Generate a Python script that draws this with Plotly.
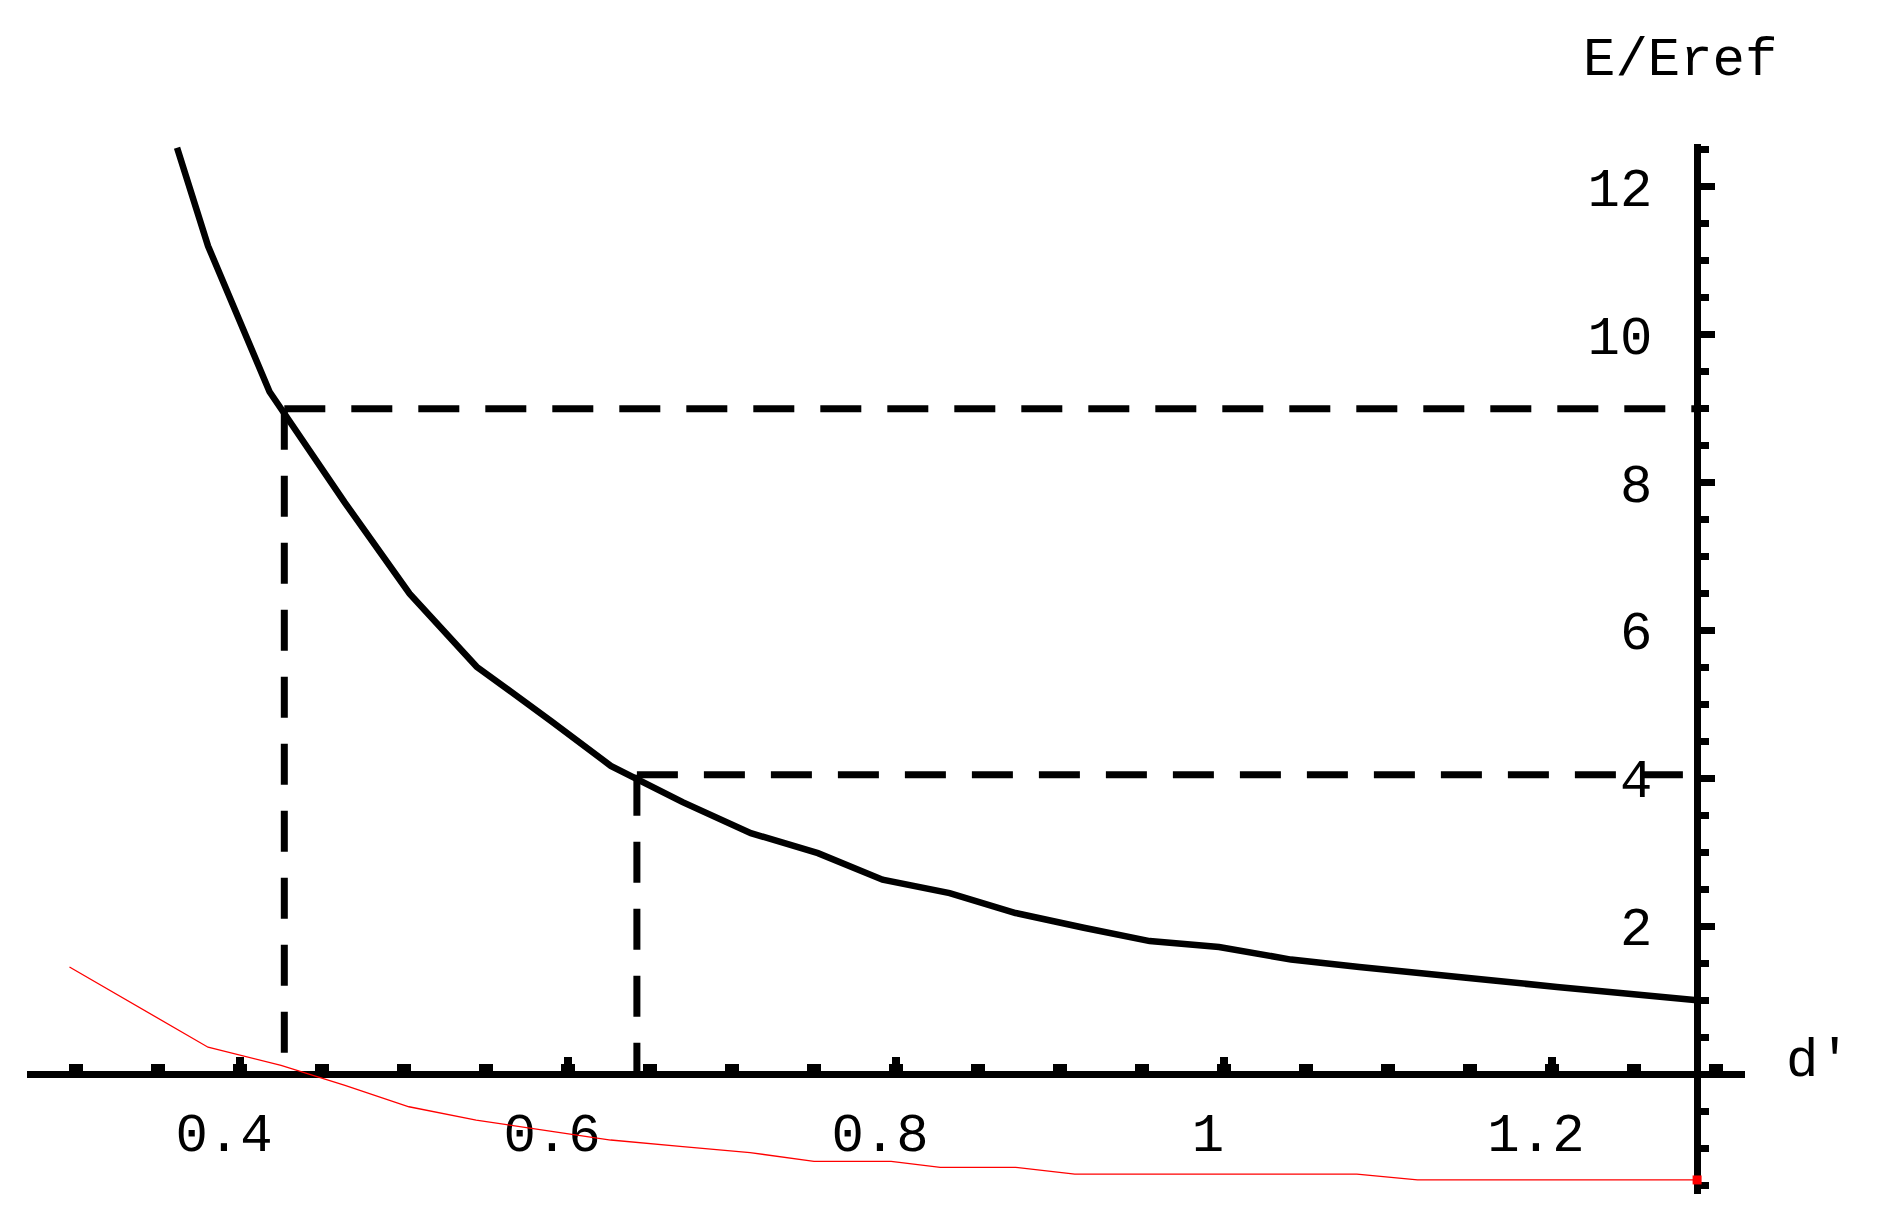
"""Energy ratio E/Eref against d' with two dashed read-off guides."""

import plotly.graph_objects as go

# black curve E/Eref(d')
curve_d = [0.3616, 0.3805, 0.418, 0.4639, 0.5034, 0.5443, 0.5895, 0.6261, 0.6699, 0.7115,
           0.7524, 0.7918, 0.8327, 0.8729, 0.9145, 0.9547, 0.997, 1.0409, 1.0825, 1.1226,
           1.1628, 1.2030, 1.2885]
curve_e = [12.53, 11.2, 9.23, 7.73, 6.50, 5.51, 4.78, 4.17, 3.68, 3.26,
           2.99, 2.63, 2.45, 2.18, 1.98, 1.80, 1.72, 1.55, 1.45, 1.37,
           1.27, 1.18, 1.00]

# thin red curve
red_d = [0.296, 0.3805, 0.425, 0.464, 0.503, 0.544, 0.589, 0.626, 0.670, 0.711,
         0.750, 0.797, 0.827, 0.873, 0.909, 1.081, 1.118, 1.2885]
red_e = [1.45, 0.365, 0.12, -0.15, -0.44, -0.62, -0.77, -0.89, -0.98, -1.06,
         -1.18, -1.18, -1.26, -1.26, -1.35, -1.35, -1.43, -1.43]

# dashed read-off guides (d', E/Eref)
guide_d = [0.427, 0.642]
guide_e = [9.0, 4.05]

x_ticks = [0.4, 0.6, 0.8, 1.0, 1.2]
x_labels = ["0.4", "0.6", "0.8", "1", "1.2"]
y_ticks = [2, 4, 6, 8, 10, 12]

x_range = [0.2701, 1.3177]
y_range = [-1.62, 12.58]
axis_cross_d = 1.2885   # where the E/Eref axis stands
axis_cross_e = 0.0      # where the d' axis stands

FONT = "Liberation Mono, Courier New, monospace"

fig = go.Figure()

for d, e in zip(guide_d, guide_e):
    fig.add_trace(go.Scatter(x=[d, axis_cross_d], y=[e, e], mode="lines",
                             line=dict(color="black", width=7, dash="41px,26px")))
    fig.add_trace(go.Scatter(x=[d, d], y=[e, axis_cross_e], mode="lines",
                             line=dict(color="black", width=7, dash="41px,26px")))

fig.add_trace(go.Scatter(x=curve_d, y=curve_e, mode="lines",
                         line=dict(color="black", width=6.5)))
fig.add_trace(go.Scatter(x=red_d, y=red_e, mode="lines",
                         line=dict(color="red", width=1.3)))
fig.add_trace(go.Scatter(x=red_d[-1:], y=red_e[-1:], mode="markers",
                         marker=dict(color="red", symbol="square", size=9)))

xpos = (axis_cross_e - y_range[0]) / (y_range[1] - y_range[0])
ypos = (axis_cross_d - x_range[0]) / (x_range[1] - x_range[0])

fig.update_layout(
    width=1878, height=1227, autosize=False,
    margin=dict(l=27, r=133, t=144, b=33, pad=0),
    paper_bgcolor="white", plot_bgcolor="white",
    showlegend=False,
    font=dict(family=FONT, size=54, color="black"),
    xaxis=dict(
        range=x_range, anchor="free", position=xpos, side="bottom",
        showline=True, linecolor="black", linewidth=7,
        showgrid=False, zeroline=False, layer="below traces",
        tickmode="array", tickvals=x_ticks, ticktext=x_labels,
        ticks="inside", ticklen=14, tickwidth=8, tickcolor="black",
        ticklabelstandoff=8, ticklabelshift=-16,
        minor=dict(dtick=0.05, tick0=0, ticks="inside", ticklen=7, tickwidth=14,
                   tickcolor="black", showgrid=False),
    ),
    yaxis=dict(
        range=y_range, anchor="free", position=ypos, side="left",
        showline=True, linecolor="black", linewidth=7,
        showgrid=False, zeroline=False, layer="below traces",
        tickmode="array", tickvals=y_ticks,
        ticks="inside", ticklen=14, tickwidth=7, tickcolor="black",
        ticklabelstandoff=31,
        minor=dict(dtick=0.5, tick0=0, ticks="inside", ticklen=8, tickwidth=7,
                   tickcolor="black", showgrid=False),
    ),
    annotations=[
        dict(text="E/Eref", xref="paper", yref="paper", x=0.962, y=1.0797,
             xanchor="center", yanchor="middle", showarrow=False,
             font=dict(family=FONT, size=54)),
        dict(text="d'", xref="paper", yref="paper", x=1.0425, y=0.126,
             xanchor="center", yanchor="middle", showarrow=False,
             font=dict(family=FONT, size=54)),
    ],
)

fig.write_html("out.html", config={"displayModeBar": False},
               post_script="document.body.style.margin='0';")
